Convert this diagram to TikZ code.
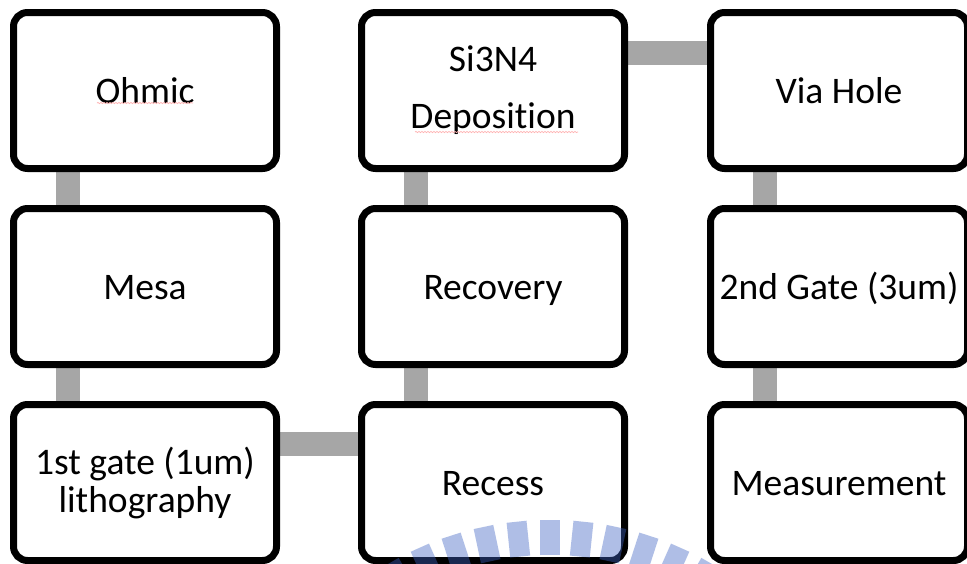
\documentclass[tikz,border=0pt]{standalone}
\usepackage{fontspec}
\setmainfont{Carlito}[Ligatures=NoCommon]
\usetikzlibrary{positioning,backgrounds,decorations.pathmorphing}

\definecolor{crestblue}{RGB}{61,98,195}

\tikzset{
  stepbox/.style={draw=black, line width=7pt, rounded corners=14pt, fill=white,
    minimum width=263pt, minimum height=156pt, inner sep=0pt, align=center,
    font=\fontsize{37.5}{38}\selectfont},
  oneline/.style={text height=25pt, text depth=0pt},
  narrow/.style={minimum width=257pt},
  link/.style={draw=gray!70, line width=24pt},
  spell/.style={draw=red!30, line width=0.7pt,
    decorate, decoration={snake, amplitude=0.6pt, segment length=3pt}},
  crest/.style={draw=crestblue, line width=20pt, opacity=0.41}
}

\begin{document}
\begin{tikzpicture}[x=1pt, y=-1pt, node distance=33pt and 78pt]
  \useasboundingbox (0,0) rectangle (967,563);
  \begin{scope}[on background layer]
    \fill[white] (0,0) rectangle (967,563);
  \end{scope}
  \clip (0,0) rectangle (967,563);

  % process steps, column by column
  \node[stepbox, oneline] (ohmic) at (145,90.5) {Ohmic};
  \node[stepbox, oneline, below=of ohmic] (mesa) {Mesa};
  \node[stepbox, below=of mesa] (gate1) {1st gate (1um)\\lithography};

  \node[stepbox, oneline, right=of gate1] (recess) {Recess};
  \node[stepbox, oneline, above=of recess] (recovery) {Recovery};
  \node[stepbox, above=of recovery] (sin) {Si3N4\\[19pt]Deposition};

  \node[stepbox, oneline, narrow, right=79pt of sin] (via) {Via Hole};
  \node[stepbox, oneline, narrow, below=of via] (gate2) {2nd Gate (3um)};
  \node[stepbox, oneline, narrow, below=of gate2] (meas) {Measurement};

  % grey links behind the boxes
  \begin{scope}[on background layer]
    \draw[link] ([xshift=57.5pt]ohmic.south west) -- ([xshift=57.5pt]mesa.north west);
    \draw[link] ([xshift=57.5pt]mesa.south west) -- ([xshift=57.5pt]gate1.north west);
    \draw[link] ([yshift=-43pt]gate1.north east) -- ([yshift=-43pt]recess.north west);
    \draw[link] ([xshift=57.5pt]recess.north west) -- ([xshift=57.5pt]recovery.south west);
    \draw[link] ([xshift=57.5pt]recovery.north west) -- ([xshift=57.5pt]sin.south west);
    \draw[link] ([yshift=-44pt]sin.north east) -- ([yshift=-44pt]via.north west);
    \draw[link] ([xshift=57.5pt]via.south west) -- ([xshift=57.5pt]gate2.north west);
    \draw[link] ([xshift=57.5pt]gate2.south west) -- ([xshift=57.5pt]meas.north west);
  \end{scope}

  % spell-check marks
  \draw[spell] (97,103) -- (193,103);
  \draw[spell] (415,132) -- (578,132);

  % crest stripes along the bottom
  \begin{scope}[shift={(550,840)}]
    \foreach \a in {60,66,...,120}
      \draw[crest] (-\a:285) -- (-\a:320);
  \end{scope}
\end{tikzpicture}
\end{document}
